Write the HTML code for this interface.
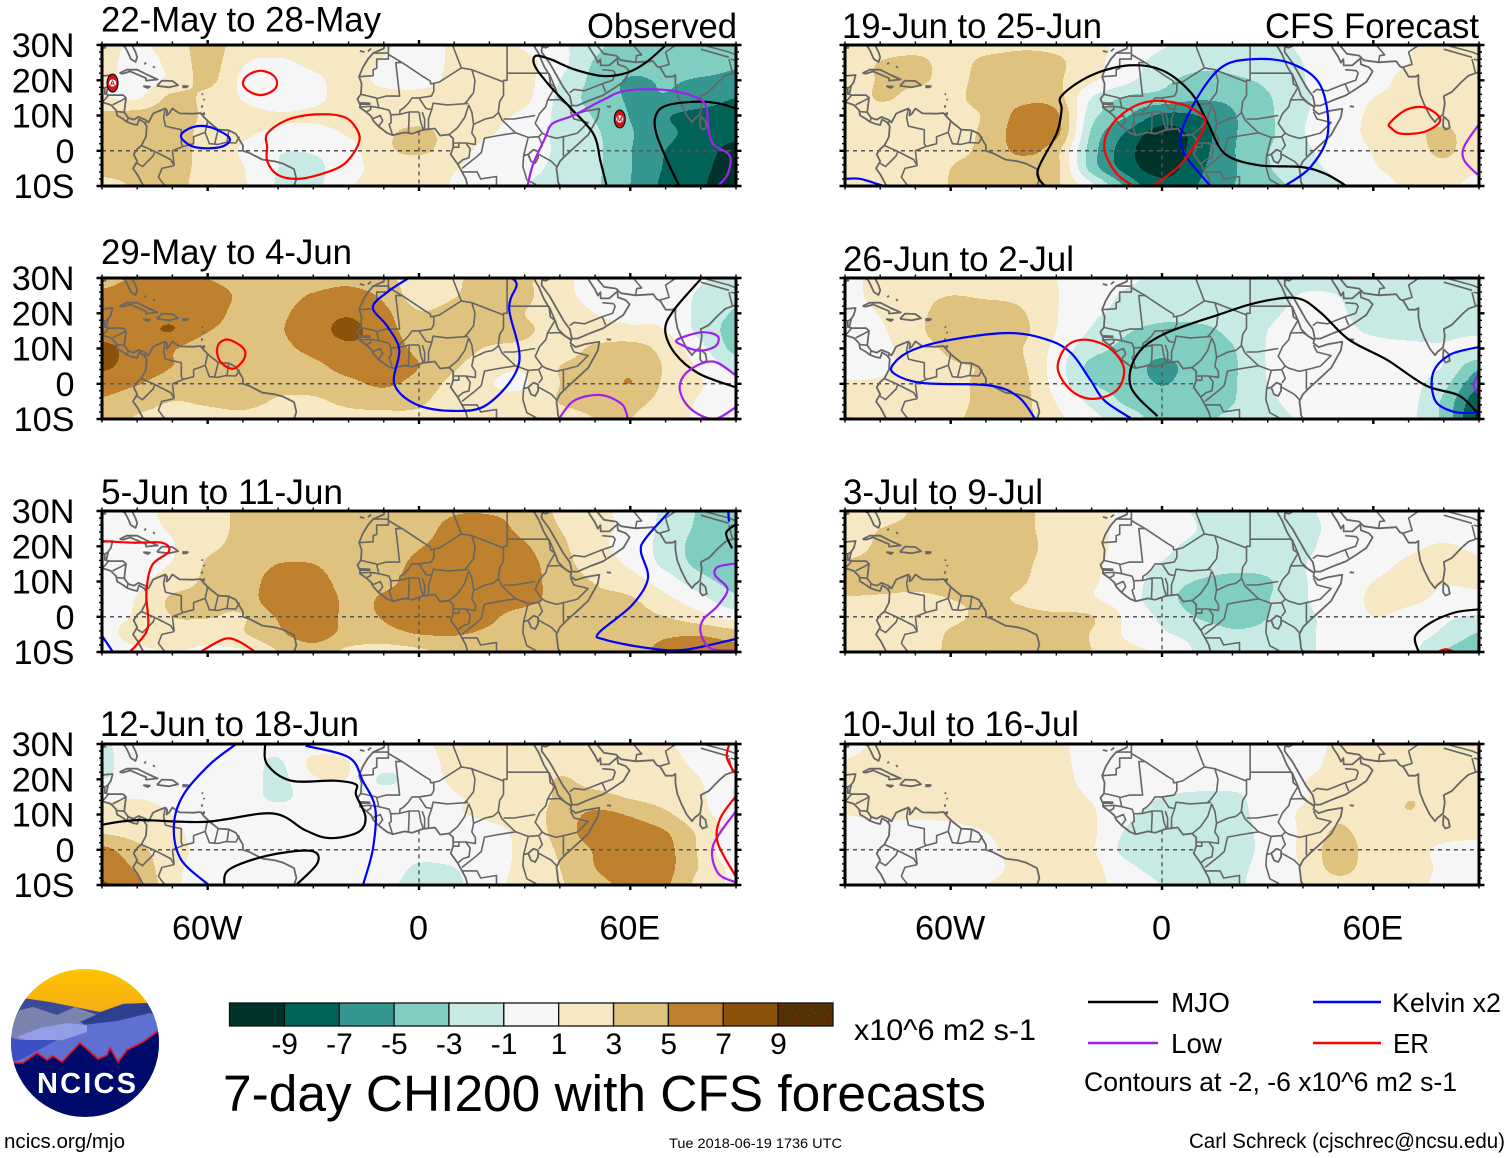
<!DOCTYPE html>
<html lang="en">
<head>
<meta charset="utf-8">
<title>7-day CHI200 with CFS forecasts</title>
<style>
html,body{margin:0;padding:0;background:#fff}
svg{display:block}
text{font-family:"Liberation Sans",sans-serif;fill:#000}
</style>
</head>
<body>
<svg id="chart" xmlns="http://www.w3.org/2000/svg" width="1510" height="1158" viewBox="0 0 1510 1158">
<defs>
<pattern id="specks" width="13" height="11" patternUnits="userSpaceOnUse">
<rect width="13" height="11" fill="#543005"/>
<rect x="2" y="3" width="1" height="1" fill="#c0201a"/>
<rect x="8" y="1" width="1" height="1" fill="#c0201a"/>
<rect x="5" y="8" width="1" height="1" fill="#c0201a"/>
<rect x="11" y="6" width="1" height="1" fill="#a02018"/>
</pattern>
<clipPath id="logo-clip"><circle cx="85" cy="1043" r="74"/></clipPath>
<linearGradient id="sun" x1="0" y1="0" x2="0" y2="1"><stop offset="0" stop-color="#ffc400"/><stop offset="1" stop-color="#f0a41c"/></linearGradient>
</defs>

<text x="101" y="31.5" font-size="35" textLength="280" lengthAdjust="spacingAndGlyphs">22-May to 28-May</text>
<text x="101" y="264" font-size="35" textLength="251" lengthAdjust="spacingAndGlyphs">29-May to 4-Jun</text>
<text x="101" y="504" font-size="35" textLength="242" lengthAdjust="spacingAndGlyphs">5-Jun to 11-Jun</text>
<text x="100" y="736" font-size="35" textLength="259" lengthAdjust="spacingAndGlyphs">12-Jun to 18-Jun</text>
<text x="842" y="38" font-size="35" textLength="260" lengthAdjust="spacingAndGlyphs">19-Jun to 25-Jun</text>
<text x="843" y="271" font-size="35" textLength="231" lengthAdjust="spacingAndGlyphs">26-Jun to 2-Jul</text>
<text x="843" y="504" font-size="35" textLength="200" lengthAdjust="spacingAndGlyphs">3-Jul to 9-Jul</text>
<text x="842" y="736" font-size="35" textLength="237" lengthAdjust="spacingAndGlyphs">10-Jul to 16-Jul</text>
<text x="587" y="38" font-size="35" textLength="150" lengthAdjust="spacingAndGlyphs">Observed</text>
<text x="1265" y="38" font-size="35" textLength="214" lengthAdjust="spacingAndGlyphs">CFS Forecast</text>

<g id="panels"></g>
<g id="colorbar"></g>

<text x="854" y="1040" font-size="30" textLength="182" lengthAdjust="spacingAndGlyphs">x10^6 m2 s-1</text>
<text x="223" y="1111" font-size="50.7" textLength="763" lengthAdjust="spacingAndGlyphs">7-day CHI200 with CFS forecasts</text>

<g>
<line x1="1088" x2="1158" y1="1002" y2="1002" stroke="#000" stroke-width="2.4"/>
<text x="1171" y="1012" font-size="27.5" textLength="59" lengthAdjust="spacingAndGlyphs">MJO</text>
<line x1="1313" x2="1381" y1="1002" y2="1002" stroke="#0000ff" stroke-width="2.4"/>
<text x="1392" y="1012" font-size="27" textLength="109" lengthAdjust="spacingAndGlyphs">Kelvin x2</text>
<line x1="1088" x2="1158" y1="1043" y2="1043" stroke="#a020f0" stroke-width="2.4"/>
<text x="1171" y="1053" font-size="27.5" textLength="51" lengthAdjust="spacingAndGlyphs">Low</text>
<line x1="1313" x2="1381" y1="1043" y2="1043" stroke="#ff0000" stroke-width="2.4"/>
<text x="1393" y="1053" font-size="27.5" textLength="36" lengthAdjust="spacingAndGlyphs">ER</text>
<text x="1084" y="1091" font-size="26.7" textLength="373" lengthAdjust="spacingAndGlyphs">Contours at -2, -6 x10^6 m2 s-1</text>
</g>

<g clip-path="url(#logo-clip)">
<rect x="11" y="969" width="148" height="60" fill="url(#sun)"/>
<polygon points="23,998 50,1002 75,1007 100,1012 123,1004 147,1003 162,1017 162,1070 5,1070 5,1030" fill="#3a4a96"/>
<polygon points="5,1030 20,1010 33,1007 57,1015 75,1007 97,1015 83,1022 83,1045 5,1045" fill="#7a84ae"/>
<polygon points="80,1022 100,1013 123,1004 147,1003 162,1015 117,1021 88,1026" fill="#2f3f8f"/>
<polygon points="83,1025 117,1021 150,1013 165,1020 165,1075 5,1075 5,1050 60,1040" fill="#6070d2"/>
<polygon points="17,1037 40,1028 67,1023 87,1025 87,1032 63,1040 33,1042" fill="#939ee6"/>
<polygon points="5,1036 20,1040 57,1040 20,1060 5,1064" fill="#3d4fc4"/>
<polygon points="5,1063 23,1063 37,1053 47,1060 53,1056 62,1062 80,1043 88,1050 98,1059 107,1055 110,1048 118,1062 127,1050 143,1042 165,1026 165,1125 5,1125" fill="#000a6b"/>
<polyline points="5,1062 15,1063 23,1063 37,1053 47,1060 53,1056 62,1062 80,1043 88,1050 98,1059 107,1055 110,1048 118,1062 127,1050 143,1042 165,1026" fill="none" stroke="#e8101c" stroke-width="1.6"/>
</g>
<text x="37" y="1093" font-size="29" font-weight="bold" textLength="99" style="fill:#fff">NCICS</text>

<text x="4" y="1148" font-size="20.5" textLength="121" lengthAdjust="spacingAndGlyphs">ncics.org/mjo</text>
<text x="669" y="1148" font-size="14" textLength="173" lengthAdjust="spacingAndGlyphs">Tue 2018-06-19 1736 UTC</text>
<text x="1189" y="1148" font-size="21.5" textLength="316" lengthAdjust="spacingAndGlyphs">Carl Schreck (cjschrec@ncsu.edu)</text>
</svg>

<script>
/* ---------- axes / legend data ---------- */
const lonGrid=[-90,-80,-70,-60,-50,-40,-30,-20,-10,0,10,20,30,40,50,60,70,80,90];
const latGrid=[30,25,20,15,10,5,0,-5,-10];
const latTickLabels=["30N","20N","10N","0","10S"];
const latTickValues=[30,20,10,0,-10];
const lonTickLabels=["60W","0","60E"];
const lonTickValues=[-60,0,60];
const colorLevels=[-9,-7,-5,-3,-1,1,3,5,7,9];
const bandColors=["#01332d","#016358","#35978f","#80cdc1","#c7eae5","#f6f6f6","#f6e8c3","#dfc27d","#bf812d","#8c510a","#543005"];

/* ---------- CHI200 anomaly fields (rows = latGrid, cols = lonGrid) ---------- */
const chi22May=[
[1.5,0.8,1.8,4,1.8,1.5,1.5,1.5,1.2,0.5,1.2,1.5,0.8,-0.5,-2.5,-4,-3.7,-3.2,-4.3],
[1.5,0.5,1.5,3.8,1.2,0.8,1.3,1.5,0.9,0.2,1.3,1.7,1.5,-0.3,-3.2,-4,-4,-4,-4.8],
[1.5,0.3,1.5,3.5,0.6,0.1,0.7,1.5,0.7,0.5,1.5,2.9,1.7,-1,-3.6,-5.2,-4.8,-5.2,-5.5],
[1.2,0.8,3.5,2.5,0.9,0.3,0.7,1.5,1.5,1.5,1.7,2,1.5,-1.5,-3.8,-5.2,-5.2,-6,-7],
[3.5,3.8,4,2.6,1.5,1.1,1.2,1.5,1.8,1.8,1.8,1.6,0.5,-1.5,-3.2,-5.1,-6.8,-7.6,-7.8],
[3.8,4,4.1,2.2,1.3,0.7,0.5,1.2,2.5,3.6,2,1.2,-0.3,-1.3,-2.7,-4.8,-6.5,-7.8,-8.5],
[3.7,3.9,4,2.1,0.8,-0.8,-0.8,0.3,2.5,3.4,1.8,0.3,-0.6,-1.2,-2.5,-4.9,-7,-8.2,-9.6],
[3.5,3.6,3.9,2.1,1.1,-1,-1.5,0.4,1.5,1.5,1.1,0.2,-0.7,-1.3,-2.6,-4.9,-7.2,-8.5,-10],
[2.5,3.2,3.8,1.8,1.2,-1.2,-1.5,0.8,1.5,1.5,0.9,0.2,-0.9,-1.5,-2.7,-5,-7.5,-8.8,-10]];
const chi29May=[
[4.5,5.2,5.7,5,4.2,3.8,4,4.4,3.5,2.2,2.8,3.5,3.3,1.5,0.5,0.2,0,-0.8,-2],
[5.3,6,6.3,6,4.6,4.2,5.2,5.8,4.6,2,2.9,3.9,3.4,1.6,0.5,0.1,0,-1.3,-2.6],
[5.6,6.2,6.5,5.8,4.4,4.6,6,6.8,5.5,3.2,3.8,4,3,2,1,0.7,0.5,-1.6,-3.2],
[6,6.4,7,5.1,4.3,4.8,6.2,7.4,5.9,3.9,4,4,3.3,2.2,1.6,1.4,1,-1.6,-3.8],
[7.5,6.2,5.2,3.8,3.8,4.4,5.6,6.6,6.2,4.5,4,2.8,2.5,2,3.4,3.9,2.2,-0.4,-3.6],
[7.4,6,5,3.9,3.8,3.8,4.5,5.8,6.3,5,3.3,1.7,1.3,3,3.8,4.5,2.8,0.6,-1.6],
[5.8,5.1,4.2,3.8,3.7,3.4,3.8,4.5,5.3,4.2,2.4,1.1,0.9,3,3.6,5,2.6,1.1,-0.2],
[4.8,3.9,3,3.3,3.6,2.8,2.6,3.6,3.8,3.3,2,1.6,1.6,3.1,3.5,3.6,2.3,0.8,0.5],
[4,2.8,2.3,2.2,2.4,1.6,1.1,2,2.4,2.6,1.8,1.7,1.8,2.2,3,3,1.8,0.7,0.3]];
const chi5Jun=[
[0.3,0.5,1.5,2.4,3.3,3.8,4,4,4,4.4,4.9,4.9,4.5,2.6,1.4,0.5,-1.5,-3.2,-4],
[0.3,0.5,1.2,2.2,3.4,3.8,4,4,4,4.5,5.4,5.6,4.5,3,1.5,0.5,-1.6,-3.4,-4.2],
[0.3,0.4,0.9,2.6,3.4,3.9,4,4,4.1,4.9,5.6,6.2,5.2,3.5,1.5,0.3,-1.8,-3.8,-4.6],
[0.2,0.4,1.1,3.2,3.5,5,5,3.9,4.3,5.4,6,6.2,5.7,3.8,2,0.7,-1.5,-3.6,-4.6],
[0.4,0.6,2,3.3,3.6,6.2,5.9,4.2,4.6,5.6,6,6.2,5.9,4,2.9,1.9,0,-2.2,-3.8],
[0.5,1.1,3.3,3.3,3.8,6.4,6.4,4.6,5.2,5.8,6,6.2,5.8,4,3.4,3.2,1.5,-0.4,-2.5],
[0.7,1.2,3,3.1,2.9,5.2,6.2,4.6,5.1,5.8,6,5.4,4,3.7,3.6,3.6,3,1.7,0.2],
[0.5,1.6,1.8,1.6,2.8,4.6,5.8,4.4,4.4,5,5.1,4.6,3.8,3.5,3.6,3.7,4.6,4.8,4],
[0.3,0.7,1,0.8,0.8,3,4.2,2.5,2,2.6,3.5,3.8,3.4,3.4,3.6,3.7,6,6.2,5.8]];
const chi12Jun=[
[-1.2,-0.3,0,0,-0.8,-0.2,0,0.3,0.2,0.4,2,2.2,2.2,2.2,2,2,1.2,0.4,0],
[-1.3,-0.3,0,0,0,-1.2,1.4,1,0,-0.2,1.8,2,2,2.3,2.4,1.8,1.5,0.6,0.2],
[-1,-0.2,0,0,0.1,-1.5,0.8,0.9,-1.3,0,1.3,1.9,1.9,3.1,2.4,1.8,1.6,1,-0.8],
[0.6,0.9,0.5,0.1,0,-1.4,-0.1,0,0,0,0.9,1.2,1.7,3.3,3.6,2.8,2.1,1.3,-1.1],
[1.9,1.7,1,0,0,0,0,0,0,0,0.8,1.3,1.9,3.8,5.4,4.8,3.4,1.5,0.2],
[2.8,2.2,1.4,0.2,0,0,0,0,0,0,0,0.5,1.6,3.8,6,6,5.1,2.5,0.3],
[5.5,3.6,1.7,0.4,0,0,0,0,0,-0.3,0,0.3,1.5,3.3,5.2,6.2,5.6,2.6,-0.8],
[6.4,4.6,1.5,0.5,0,0,0,0,-0.2,-1.2,-1,0.3,1.5,3,5,6,5.6,2.8,0.4],
[7.2,5.4,1.5,0.3,0,0,0,0,-0.6,-1.5,-1.4,0.5,1.5,2.8,4.4,5.4,5.3,2.2,0.7]];
const chi19Jun=[
[1.4,1.6,2,2,2.2,2.7,2.5,1.7,0.4,-0.8,-1.6,-1.7,-1.4,-0.8,0,0.2,0.9,1.6,1],
[1.5,3.1,3.6,2.2,3.5,3.8,3.4,1.6,0,-1.8,-2.5,-2.5,-1.8,-1,-0.2,0.3,1,1.6,1.2],
[1.5,3.2,3.3,2.6,3.5,3.8,3.3,1.3,-0.5,-2.5,-3.5,-3.3,-2.6,-1.1,0,0.5,1.4,1.7,1.3],
[1.5,3.2,2.4,2.7,3.5,4.5,3.9,-1,-3.3,-3.8,-4.7,-4.5,-3.2,-1.3,-0.3,1,1.3,1.9,1.5],
[1.5,2,1.7,2.6,3.2,5.6,5.4,-2.2,-4.8,-7.4,-7,-5.2,-3.4,-1.2,-0.2,1.4,1.8,2.2,1.8],
[1.4,1.7,1.6,2.4,3.4,6,5.6,-3.3,-7.2,-9.9,-8.2,-5.3,-3.5,-1.1,0.2,1.4,2.2,3.4,1.6],
[1.4,1.5,1.5,2.6,3.4,5.4,3.6,-4,-8.2,-10.5,-8,-5.2,-3.1,-1.4,-0.2,1.1,1.8,3.4,1.5],
[1.3,1.4,1.5,3,3.3,3.8,3.5,-3.8,-7.8,-9.9,-7.5,-5.3,-3.2,-1.7,-0.5,0.8,1.7,2.3,1.1],
[1.2,1.3,1.4,3.1,3.4,3.5,3.2,-0.5,-5.5,-8.3,-7,-5.1,-3.7,-2.4,-1.2,0,1.3,1.3,0.5]];
const chi26Jun=[
[0.5,1.5,2,2.2,2,1.8,1,0.4,-0.6,-1.4,-1.5,-1.6,-1.7,-1.5,-1.5,-1.8,-1.8,-1.7,-1.6],
[0.4,1.6,2.5,3,2.8,2.5,1.1,0,-1.3,-1.7,-1.8,-2,-1.8,-0.9,-1,-1.8,-1.8,-1.7,-1.6],
[0.3,1.1,2.6,3.5,3.7,3.2,1.1,-0.6,-1.6,-2.3,-2.4,-2.2,-1.4,-0.5,-0.8,-1.6,-1.8,-1.7,-1.6],
[0.1,0.7,2.6,3.7,3.9,3.5,1,-1.2,-2.8,-3.6,-3.4,-2.6,-1,-0.3,-0.6,-1.2,-1.4,-1.3,-1.2],
[0,0.4,2.2,3.3,3.8,3.1,0.4,-2.2,-3.5,-4.2,-3.7,-3.1,-0.9,-0.2,-0.3,-0.5,-0.7,-0.9,-0.8],
[0,0.5,2,2.8,3.1,3.3,0,-3.5,-3.9,-5.5,-4,-3.3,-0.9,-0.1,-0.1,-0.2,-0.4,-1.1,-4.5],
[1.2,1.3,2.2,2.5,3.4,3.6,0.2,-2.9,-3.7,-5.1,-3.8,-3.2,-1,-0.2,0,0,-0.3,-2.4,-6.5],
[1.4,1.5,2.2,2.5,3.4,3.6,0.9,-1.5,-3.3,-3.9,-3.8,-3.1,-1.4,-0.4,0,0,-0.4,-3.4,-8.5],
[3.2,2.1,2.3,2.7,3.5,3.6,1.5,-0.4,-2.2,-3.5,-3.4,-2.6,-1.6,-0.8,-0.2,0,-0.5,-3.6,-9.5]];
const chi3Jul=[
[1.5,1.6,3.3,3.6,3.7,3.6,2,1.6,0.6,0.2,-1.2,-1.5,-1.5,-1.3,-0.4,0,0,0,0],
[1.7,3,3.6,3.8,3.8,3.6,2,1.6,0.4,0,-1,-1.5,-1.6,-1.6,-0.4,0,0,0,0],
[2.2,3.3,3.8,3.9,3.9,3.8,2.1,1.6,0.3,-0.6,-1.4,-1.7,-1.8,-1.5,-0.1,0,0.6,1.2,0.6],
[3.2,3.5,3.8,3.9,3.9,3.5,1.9,1.4,0.1,-1.1,-1.8,-2.4,-2.2,-1.1,0,0.4,1.3,1.7,1.3],
[3.3,3.5,3.6,3.6,3.4,3.2,1.7,1.2,0,-2,-3.1,-3.5,-3.2,-1.2,0,1,1.5,1.1,1.3],
[2.9,2.8,2.6,3,3.2,2.8,1.6,1.2,-0.1,-2.2,-3.7,-3.9,-3.1,-1.2,-0.2,1.3,1.4,0.6,0.4],
[2,2.2,2.2,2.7,3.3,3.5,3.4,3.1,0.6,-1.4,-3.1,-3.8,-3,-1.4,-0.4,1,0.4,-0.6,-1.2],
[1.5,1.8,1.9,3.2,3.6,3.7,3.6,2.9,0.7,-0.7,-1.6,-2.6,-2.4,-1.4,-0.4,0.1,-0.2,-1.4,-3.2],
[1.2,1.6,2.1,3.3,3.8,4.6,3.8,3,1.6,0.7,-1.2,-1.8,-1.8,-1.3,-0.5,-0.1,-0.4,-3,-4.5]];
const chi10Jul=[
[0.2,1.5,1.7,1.7,1.6,1.6,1.4,0.2,0,0,0,0,0,0,1.4,1.6,1.6,1.6,1.5],
[1.1,1.6,1.7,1.7,1.7,1.6,1.4,0.4,0,0,0,0,0,0.1,1.6,1.7,1.7,1.7,1.6],
[1.3,1.5,1.7,1.7,1.7,1.6,1.5,0.5,0,0,0,0,0,0.9,1.7,1.8,1.8,1.8,1.7],
[1.3,1.5,1.7,1.8,1.7,1.6,1.5,0.9,0,-1,-1.4,-1.4,0,0.8,1.9,1.8,2.9,2.3,1.7],
[1,1.2,1.2,1.3,1.6,1.7,1.6,1.2,-0.6,-1.7,-1.8,-1.6,-0.2,1.3,2.6,1.9,2.9,1.9,1.5],
[0.6,0.5,0.5,0.6,1,1.8,1.7,1.3,-1.2,-1.9,-2,-1.7,-0.4,1.3,3.3,2,1.8,1.6,1.4],
[0.3,0.2,0.2,0.2,0.6,1.7,1.6,1.2,-1.6,-2,-2,-1.8,-0.4,1.4,3.9,2.1,1.6,0.7,0.4],
[0.2,0.2,0.2,0.2,0.3,1.6,1.7,1.5,-0.5,-1.8,-1.9,-1.6,-0.2,1.2,3.7,1.9,1.5,0.8,0.3],
[0.2,0.2,0.2,0.3,1,1.6,1.6,1.4,0.4,-1.05,-1.7,-1.4,-0.1,1.1,2.2,1.8,1.4,0.7,0.2]];

/* ---------- wave-filter contours, [lon,lat] (first==last means closed) ---------- */
const mjo22May=[
[[69.9,29.8],[64.4,25],[59,22.1],[52.2,21.2],[44,23.1],[37.2,26],[33.1,26.9],[32.9,24],[37.2,18.3],[42.7,12.5],[49.5,4.8],[51.5,-2.9],[53.3,-10]],
[[73.9,-10],[70.5,-2.9],[67.4,4.8],[67.1,9.6],[69.9,12.7],[78,13.9],[84.8,13.5],[89.9,12]]];
const kelvin22May=[[[-67.6,4.3],[-64.2,6.7],[-59.4,6.7],[-53.9,3.8],[-55.3,1.4],[-60.1,0.7],[-64.8,1.4],[-67.6,4.3]]];
const low22May=[[[30.8,-10],[32.4,-3.8],[35.9,3.8],[37.9,7.7],[44,10.1],[52.2,14.4],[59,17.1],[71.2,17.1],[80.7,13.9],[82.1,6.7],[83.5,1.9],[88.2,-1.4],[87.6,-6.7],[84.8,-10]]];
const er22May=[
[[-45,22.7],[-41.5,21.5],[-40.3,19.2],[-41.5,17],[-45,15.8],[-48.5,17],[-50,19.2],[-48.5,21.5],[-45,22.7]],
[[-43.1,4.8],[-37.6,8.7],[-29.5,10.3],[-21.3,9.6],[-17.5,5.8],[-17.2,1.9],[-21.3,-3.8],[-28.1,-6.7],[-34.9,-8],[-40.3,-6.7],[-43.1,-2.9],[-43.1,1],[-43.1,4.8]]];

const mjo29May=[[[80.1,29.8],[72.6,21.2],[69.9,15.4],[72.6,8.7],[79.4,2.9],[89.9,-1]]];
const kelvin29May=[[[-2.9,30],[-9,26],[-13.1,21.6],[-9,16.3],[-5.6,9.6],[-7,0],[-0.9,-5.8],[9.3,-7.7],[19.5,-5.8],[28.4,5.8],[25.6,21.2],[27.7,27.9],[26.3,30]]];
const low29May=[
[[39.7,-10],[44,-4.8],[51.5,-3.2],[57.6,-5.8],[59.3,-10]],
[[73.3,12.5],[80.1,14.6],[84.8,13.5],[84.1,10.6],[79.4,9.4],[74.6,11],[73.3,12.5]],
[[89.9,2.4],[83.5,6.3],[76.7,3.8],[74,-1],[76.7,-6.7],[83.5,-10],[89.9,-6.7]]];
const er29May=[[[-54,12.5],[-49.9,10.1],[-49.6,7.2],[-52.6,4.3],[-56,5.8],[-57.3,8.7],[-56.7,11.5],[-54,12.5]]];

const mjo5Jun=[[[89.9,26.2],[87.2,23.7],[88.9,19.4]]];
const kelvin5Jun=[
[[71.2,30],[64.4,22.3],[63,18.5],[65,10.8],[60.3,3.1],[51,-4.6],[52.8,-6.5],[64.4,-8.8],[75.2,-9.4],[89.9,-6.3]],
[[-90,-5.4],[-86.9,-10]],
[[87.8,30],[88,27]]];
const low5Jun=[[[89.9,15.1],[84.8,14.1],[84.1,11.7],[87.6,7.9],[84.8,3.1],[80.7,-0.8],[80,-4.6],[82.8,-9],[89.9,-9.6]]];
const er5Jun=[
[[-90,21.5],[-81.2,21],[-73,21],[-71,18.5],[-75.8,14.6],[-77.4,6.9],[-76.9,-2.7],[-79.8,-7.5],[-82.2,-10]],
[[-62.1,-10],[-55.3,-6.3],[-51.2,-7],[-46.5,-10]]];

const mjo12Jun=[
[[-90,7.1],[-79.8,8.4],[-60.8,7.9],[-41.7,10.3],[-32.2,5.5],[-25.4,3.3],[-17.2,5],[-15.2,9.3],[-17.9,15.6],[-17.9,18.5],[-24,19.6],[-36.3,19.6],[-43.1,24.2],[-43.7,30]],
[[-55.3,-10],[-53.9,-5.6],[-43.1,-1.7],[-30.8,-0.3],[-28.8,-3.7],[-34.9,-10]]];
const kelvin12Jun=[
[[-51.9,30],[-59.4,24.2],[-66.9,15.6],[-69.6,6.9],[-67.6,-2.7],[-59.7,-10]],
[[-32.2,29.5],[-19.9,26.2],[-15.9,19.4],[-12.4,11.7],[-13.1,0.2],[-15.9,-10]]];
const low12Jun=[[[89.9,10.8],[83.5,1.2],[84.8,-6.5],[89.9,-9.2]]];
const er12Jun=[
[[89.9,15.1],[85.5,8.8],[84.8,2],[89.9,-7.5]],
[[88.1,30],[87.4,26.2],[89.6,21.8]]];

const mjo19Jun=[[[-33.3,-10],[-35.3,-5.6],[-29.9,5],[-28.5,11.7],[-28.5,15.6],[-20.3,21.3],[-9.5,24.2],[0.1,22.8],[8.2,16.5],[13,7.9],[17.8,-0.8],[27.3,-4.1],[39.5,-4.6],[46.3,-6.5],[52.4,-10]]];
const kelvin19Jun=[
[[13.7,-10],[5.5,1.2],[8.2,11.7],[16.4,23.3],[25.9,26],[36.8,24.7],[45,18.5],[47.1,5],[42.2,-4.6],[34.8,-10]],
[[-90,-8],[-85.6,-8],[-79.1,-10]]];
const low19Jun=[[[89.9,7.4],[85.8,1.2],[85.8,-2.7],[89.6,-6.8]]];
const er19Jun=[
[[-2.7,-10],[5.5,-3.7],[11.6,5.9],[11.6,9.8],[5.5,13.2],[-2.7,14.1],[-9.5,11.7],[-14.9,6.4],[-16.3,0.2],[-12.9,-6.5],[-8.1,-10]],
[[64.7,7.9],[69.5,11.7],[74.9,12.2],[79,8.8],[74.9,5.5],[68.1,4.8],[65.1,6.4],[64.7,7.9]]];

const mjo26Jun=[[[-1.3,-9.2],[-8.8,-1],[-7.4,7.7],[0.1,13.9],[16.4,19.7],[27.3,23.1],[38.2,24.3],[45,20.2],[53.1,12.5],[64,6.7],[74.9,-0.5],[84.4,-3.4],[89.9,-8.7]]];
const kelvin26Jun=[
[[-36,-10],[-40.7,-3.8],[-48.9,-0.5],[-68,0.2],[-76.1,2.9],[-76.1,5.8],[-70.7,9.6],[-59.8,12.5],[-43.5,14.4],[-32.6,12.5],[-25.8,8.7],[-20.3,1],[-16.3,-4.8],[-8.8,-9.8]],
[[89.9,10.4],[81.7,8.2],[76.9,2.9],[77.6,-4.8],[83,-8],[89.9,-8.2]]];
const low26Jun=[[[89.9,2.9],[88.5,-0.5],[89.9,-2.9]]];
const er26Jun=[[[-21.7,12.5],[-14.9,10.1],[-10.8,4.3],[-12.9,-1.9],[-19.7,-4.3],[-25.8,-1.9],[-29.6,4.3],[-27.1,10.6],[-21.7,12.5]]];

const mjo3Jul=[[[72.9,-10],[71.9,-5.6],[76.3,-1.7],[83.1,1.2],[89.9,2.1]]];
const er3Jul=[[[78.3,-10],[80.6,-9.2],[83,-10]]];
const emptyContours=[];

const panelTitles=["22-May to 28-May","29-May to 4-Jun","5-Jun to 11-Jun","12-Jun to 18-Jun","19-Jun to 25-Jun","26-Jun to 2-Jul","3-Jul to 9-Jul","10-Jul to 16-Jul"];
const panelFields=[chi22May,chi29May,chi5Jun,chi12Jun,chi19Jun,chi26Jun,chi3Jul,chi10Jul];
const panelMjo=[mjo22May,mjo29May,mjo5Jun,mjo12Jun,mjo19Jun,mjo26Jun,mjo3Jul,emptyContours];
const panelKelvin=[kelvin22May,kelvin29May,kelvin5Jun,kelvin12Jun,kelvin19Jun,kelvin26Jun,emptyContours,emptyContours];
const panelLow=[low22May,low29May,low5Jun,low12Jun,low19Jun,low26Jun,emptyContours,emptyContours];
const panelEr=[er22May,er29May,er5Jun,er12Jun,er19Jun,er26Jun,er3Jul,emptyContours];
const stormLons=[-87,57];
const stormLats=[19.2,9];
const stormLetters=["A","M"];

/* ---------- base map polylines, [lon,lat] ---------- */
const coastLines=[
[[-81.5,30],[-80.5,28],[-80,26.5],[-80.5,25.2],[-81.8,26],[-82.7,28],[-83.5,29.5],[-84.5,30]],
[[-90,29.2],[-89,29.2],[-89.5,30]],
[[-90.5,19.5],[-90,21.2],[-87,21.5],[-87.5,19.5],[-88.2,18.5],[-88.8,16],[-88,15.8],[-84,15.8],[-83.2,15],[-83.5,12.5],[-83.7,10.9],[-82.5,9.3],[-81,8.8],[-79.6,9.6],[-77.5,8.7],[-76.8,8],[-75.5,10.5],[-74.5,11],[-72,12],[-71.5,11.3],[-71.7,10],[-71,10.5],[-70,12],[-68,10.6],[-64,10.5],[-62,10.7],[-61,9.5],[-59.5,8],[-57,6],[-54,5.8],[-52,4.8],[-50,1.5],[-50,0],[-48,-0.7],[-44.5,-2.5],[-41,-3],[-38.5,-3.7],[-35.5,-5.2],[-34.8,-8],[-35.5,-10]],
[[-90,13.8],[-87.5,13],[-86,11.5],[-85.7,10],[-84,9],[-83,8.2],[-81,7.5],[-80,7.3],[-79.5,8.9],[-78,8],[-77.3,7],[-77.5,4],[-78.8,1.5],[-80,0.5],[-81,-1],[-80,-3],[-81.2,-5],[-79.8,-7],[-78.5,-9.5],[-78,-10]],
[[-85,22],[-83,23],[-80,23],[-77,21.5],[-74.2,20.2],[-77.5,19.9],[-77.5,20.6],[-78.5,21],[-82,22.5],[-84,21.9],[-85,22]],
[[-74.4,18.4],[-73,19.9],[-70,19.8],[-68.4,18.6],[-71,18],[-74.4,18.4]],
[[-78.3,18.3],[-76.4,18.2],[-77,17.8],[-78.3,18.3]],
[[-67.2,18.4],[-65.6,18.3],[-66,18],[-67.2,18]],
[[-61.7,16.2],[-61.3,15.9]],[[-61.1,14.7],[-60.9,14.3]],[[-61.7,12.2],[-61.5,12.9]],
[[-61.9,10.2],[-61,10.7],[-61,10.1]],
[[-78,24.5],[-77.5,25]],[[-75.5,24],[-75,23.5]],
[[-9.8,30],[-10,29],[-13,27.7],[-14.5,26],[-16,23.5],[-17,21],[-16.3,19],[-16.5,16],[-17.5,14.7],[-16.7,13],[-16.8,12.3],[-15,11],[-13.5,9.7],[-13,8.5],[-11.5,6.9],[-9,5],[-7.5,4.4],[-4,5.2],[-2,4.8],[1,5.9],[4.5,6.3],[6,4.3],[8.5,4.6],[9.7,3.5],[9.7,1],[9,-1],[11,-3.8],[12.2,-6],[13.3,-8],[13.8,-10]],
[[-16.8,28.3],[-15.5,28]],[[-14.5,28.2],[-13.6,29]],
[[32.5,30],[34,27.5],[35.5,24],[37,21.5],[37.3,19],[38.6,18],[39.5,15.5],[41.5,13.5],[43.2,12.5],[43,11.5],[44.5,10.4],[47,11.2],[51.2,11.9],[50.8,9.5],[48,4.5],[45.3,2],[42,-1],[40,-3],[39,-5],[39.3,-7],[39.5,-9],[40.5,-10.5]],
[[34.9,29.5],[34.8,28],[37,25],[39,21.5],[41,18],[42.8,15.5],[43.4,12.8],[45,12.8],[49,14.5],[52.2,15.7],[55,17.5],[58,19.5],[59.8,22.5],[58.7,23.7],[56.5,24.5],[56.3,26.2],[54,24.2],[51.6,24.2],[51.5,26],[50.8,25],[50,26.7],[48.5,29],[48,30]],
[[49,30.2],[50.5,29.9],[52.5,27.5],[56,27],[57.3,25.7],[61.5,25.1],[66.5,25.4],[67.5,24],[68.5,23.5],[70,21],[72,21],[72.8,21.5],[72.8,19],[73.3,16],[74.5,13],[76,10],[77.5,8.1],[78.2,9],[79.8,10.3],[80.3,13.5],[80,15.5],[82.3,16.7],[85,19.5],[87,21.3],[89,22],[90.5,22.5]],
[[79.9,9.5],[79.8,7],[80.5,6],[81.7,6.5],[81.3,8.5],[80,9.7],[79.9,9.5]],
[[53.3,12.6],[54.5,12.5]],
[[31,-1],[32.5,0.3],[33.8,-0.2],[33.8,-2],[33,-3.5],[31.8,-3],[31,-1]]];
const borderLines=[
[[-72,12],[-72.5,9.5],[-72,7],[-70,6.5],[-67.5,6],[-67.5,2],[-67,1.2],[-70,0],[-69.5,-4.2]],
[[-69.5,-4.2],[-70.5,-2.5],[-75,-0.2],[-78.8,1.5]],
[[-75,-0.2],[-75.5,-1.5],[-78.5,-4.5],[-80.3,-3.4]],
[[-69.5,-4.2],[-73,-5],[-74,-7.5],[-72.5,-9.5],[-70.5,-11]],
[[-60,8.5],[-60.7,5.2],[-64,4],[-64,2],[-67,1.2]],
[[-60.7,5.2],[-59.5,2],[-57,1.8],[-55,2.3],[-52,2.2],[-51,4]],
[[-57,6],[-58,2]],[[-54,5.8],[-54.5,2.3]],
[[-70,-11],[-65,-10]],
[[-90.5,16],[-91,17.8],[-89,17.9],[-88.3,18.4]],
[[-89.2,17.8],[-89.2,15.9]],[[-88.2,15.7],[-89.3,14.4],[-90,13.8]],
[[-83.2,15],[-85,14],[-87,13]],[[-83.7,10.9],[-85.7,11.1]],[[-82.6,9.5],[-82.9,8.1]],[[-77.4,8.6],[-77.8,7.4]],
[[-13,27.7],[-8.7,27.7]],
[[-17,21],[-13,21.3],[-13,23],[-12,23.4],[-12,26],[-8.7,26],[-8.7,27.3],[-4.8,25],[-6.6,25],[-5.5,15.5],[-9.3,15.5],[-12,14.8],[-12.2,15],[-16.5,16]],
[[-8.7,30],[-8.7,27.3]],
[[-4.8,25],[1.1,21.1],[3.2,19.8],[3.3,19],[4.2,19.1],[4.2,16.8],[3.5,15.5],[0,15],[-2,15],[-3,13.5],[-4.5,12],[-5.4,11.5],[-5.5,10.3]],
[[4,19.1],[5.8,19.5],[12,23.5],[9.5,30]],
[[12,23.5],[15,23],[24,19.5],[24,20],[25,20],[25,30]],
[[25,22],[36.9,22]],
[[24,19.5],[24,15.7],[22.9,14],[22.5,11],[23.6,8.7],[27.4,5.1]],
[[22.8,11],[21,9.5],[18.8,9],[15.5,7.5]],
[[15,23],[15.9,20],[15.5,16.5],[13.6,14],[13,13.5]],
[[14.1,13],[15,11],[15.5,7.5],[15,5],[16,3.5],[16,1.8],[13.3,2.2],[9.8,2.2]],
[[14,13.4],[8,13],[4,13.5],[3.6,11.7],[2.7,9],[2.7,6.3]],
[[1.6,6.2],[1.6,9],[0.9,11]],[[1.2,6.1],[0.5,8],[0,11]],
[[-3,5],[-2.8,9.5],[-2.8,11]],
[[3.6,11.7],[2,12],[0,15]],
[[0,11],[-2.8,11],[-5.5,10.3],[-8,10.2],[-8.5,11.5],[-11.4,12.2],[-12,14.8]],
[[-11.4,12.2],[-13.7,12.6],[-16.8,12.4]],[[-13.7,12.6],[-13.7,11.7],[-15,11]],
[[-8,10.2],[-7.9,8],[-8.5,7.5],[-7.5,4.4]],
[[-13.3,9],[-11,10],[-10.3,8.5],[-11.5,6.9]],
[[-16.8,13.6],[-14,13.5],[-14,13.2],[-16.8,13.2]],
[[14.1,13],[13,9.5],[11,6.6],[8.6,4.6]],
[[11,-3.8],[12.5,-2.5],[14.2,-2],[14.5,0.5],[13.3,2.2]],
[[9.7,1],[11.3,1],[11.3,2.2]],
[[12.2,-5],[16,-2],[17.7,-0.5],[18.6,3.6],[22,4.2],[27.4,5.1]],
[[36.9,22],[38.6,18],[36.5,14.4],[36,12.5],[34.2,10.5],[33,7.8],[35,5]],
[[36.5,14.4],[40,14.5],[43,12.5]],
[[24,9],[27,9],[33,10]],
[[27.4,5.1],[31,3.8],[34,4],[35,5],[36,4.4],[39,3.5],[41,4],[42,4.2],[45,5],[48,8],[44,9],[43,11]],
[[41,4],[41,-1.6]],[[34,4],[35,1.5],[34,0.2]],
[[34,-1],[37.6,-3],[39.2,-4.7]],
[[31,3.8],[29.7,-1.4],[29.5,-4.5],[30.6,-8.2],[33,-9.5],[34.8,-11]],
[[34.8,-11],[40.4,-10.4]],
[[29.7,-1.4],[31,-1]],
[[12.2,-6],[16.5,-6],[17.5,-8],[22,-7.3],[22,-11]],
[[34.9,29.5],[36,29.2],[37.5,30]],
[[42.8,16.5],[44,17.4],[47,17],[52,19],[53,16.6]],
[[52,19],[55,20],[55.7,22],[55.2,22.7],[52,23]],
[[61.5,25.1],[61.8,27],[63.2,27.2],[60.8,30]],
[[68.3,23.7],[71,24.5],[70,28],[73,30]],
[[80,28.8],[88,26.5]],[[80.5,30],[88,28],[90,27.2]],
[[88,26],[89,22]],[[88.5,26],[90.5,25.5]],[[78.5,30],[80.5,30]]];
const equatorSpans=[[-90,9.5],[42,90]];

/* ---------- layout and axis functions ---------- */
const NS='http://www.w3.org/2000/svg';
const panelLefts=[102,102,102,102,845,845,845,845];
const panelTops=[45,278,511,744,45,278,511,744];
const PW=634,PH=141;
function xAxis(p,lon){return panelLefts[p]+(lon-lonGrid[0])*PW/(lonGrid[lonGrid.length-1]-lonGrid[0]);}
function yAxis(p,lat){return panelTops[p]+(latGrid[0]-lat)*PH/(latGrid[0]-latGrid[latGrid.length-1]);}
function make(tag,parent){const el=document.createElementNS(NS,tag);parent.appendChild(el);return el;}
function cr(a,b,c,d,t){return 0.5*(2*b+(c-a)*t+(2*a-5*b+4*c-d)*t*t+(3*b-a-3*c+d)*t*t*t);}
function fieldAt(f,lon,lat){
  const nr=f.length,nc=f[0].length;
  const u=(lon-lonGrid[0])/(lonGrid[1]-lonGrid[0]),v=(latGrid[0]-lat)/(latGrid[0]-latGrid[1]);
  const i=Math.min(nc-2,Math.max(0,Math.floor(u))),j=Math.min(nr-2,Math.max(0,Math.floor(v)));
  const tu=u-i,tv=v-j,rows=[];
  for(let k=-1;k<=2;k++){
    const r=f[Math.min(nr-1,Math.max(0,j+k))];
    rows.push(cr(r[Math.max(0,i-1)],r[i],r[i+1],r[Math.min(nc-1,i+2)],tu));
  }
  return cr(rows[0],rows[1],rows[2],rows[3],tv);
}
function bandOf(v){let i=0;while(i<colorLevels.length&&v>=colorLevels[i])i++;return i;}
function smoothPath(p,pts){
  const q=pts.map(a=>[xAxis(p,a[0]),yAxis(p,a[1])]);
  const closed=q.length>3&&pts[0][0]===pts[pts.length-1][0]&&pts[0][1]===pts[pts.length-1][1];
  const n=q.length;
  let d='M'+q[0][0].toFixed(1)+' '+q[0][1].toFixed(1);
  for(let i=0;i<n-1;i++){
    const a=i>0?q[i-1]:(closed?q[n-2]:q[0]);
    const b=q[i],c=q[i+1];
    const e=i<n-2?q[i+2]:(closed?q[1]:q[n-1]);
    d+='C'+(b[0]+(c[0]-a[0])/6).toFixed(1)+' '+(b[1]+(c[1]-a[1])/6).toFixed(1)+' '+(c[0]-(e[0]-b[0])/6).toFixed(1)+' '+(c[1]-(e[1]-b[1])/6).toFixed(1)+' '+c[0].toFixed(1)+' '+c[1].toFixed(1);
  }
  return d;
}
function straightPath(p,lines){
  let d='';
  for(const l of lines){l.forEach((a,i)=>{d+=(i?'L':'M')+xAxis(p,a[0]).toFixed(1)+' '+yAxis(p,a[1]).toFixed(1);});}
  return d;
}
function bandPaths(p){
  const L=panelLefts[p],T=panelTops[p],paths=bandColors.map(()=>[]),f=panelFields[p];
  const w=lonGrid[lonGrid.length-1]-lonGrid[0],h=latGrid[0]-latGrid[latGrid.length-1];
  for(let y=0;y<PH;y++){
    const lat=latGrid[0]-(y+0.5)*h/PH;
    let start=0,cur=-1;
    for(let x=0;x<=PW;x++){
      const b=x<PW?bandOf(fieldAt(f,lonGrid[0]+(x+0.5)*w/PW,lat)):-2;
      if(b!==cur){
        if(cur>=0)paths[cur].push('M'+(L+start)+' '+(T+y)+'h'+(x-start)+'v1h-'+(x-start)+'z');
        start=x;cur=b;
      }
    }
  }
  return paths;
}

/* ---------- draw panels ---------- */
const panelsGroup=document.getElementById('panels');
const svgDefs=document.querySelector('#chart defs');
panelTitles.forEach((title,p)=>{
  const L=panelLefts[p],T=panelTops[p];
  const g=make('g',panelsGroup);
  
  
  g.setAttribute('aria-label',title);

  const cp=make('clipPath',svgDefs);
  cp.setAttribute('id','clip'+p);
  const cpr=make('rect',cp);
  cpr.setAttribute('x',L);cpr.setAttribute('y',T);cpr.setAttribute('width',PW);cpr.setAttribute('height',PH);

  const fills=make('g',g);
  
  
  bandPaths(p).forEach((runs,b)=>{
    if(!runs.length)return;
    const band=make('path',fills);
    
    
    band.setAttribute('d',runs.join(''));
    band.setAttribute('fill',bandColors[b]);
    band.setAttribute('shape-rendering','crispEdges');
  });

  const inner=make('g',g);
  inner.setAttribute('clip-path','url(#clip'+p+')');
  
  

  const eq=make('path',inner);
  
  
  eq.setAttribute('d',straightPath(p,equatorSpans.map(s=>[[s[0],0],[s[1],0]])));
  eq.setAttribute('stroke','#555');eq.setAttribute('stroke-width','1.5');eq.setAttribute('stroke-dasharray','4 4');eq.setAttribute('fill','none');
  const mer=make('path',inner);
  
  
  mer.setAttribute('d',straightPath(p,[[[0,5.5],[0,-10]]]));
  mer.setAttribute('stroke','#555');mer.setAttribute('stroke-width','1.4');mer.setAttribute('stroke-dasharray','4 4');mer.setAttribute('fill','none');

  const coast=make('path',inner);
  
  
  coast.setAttribute('d',straightPath(p,coastLines));
  coast.setAttribute('stroke','#666');coast.setAttribute('stroke-width','1.8');coast.setAttribute('fill','none');coast.setAttribute('stroke-linejoin','round');
  const borders=make('path',inner);
  
  
  borders.setAttribute('d',straightPath(p,borderLines));
  borders.setAttribute('stroke','#666');borders.setAttribute('stroke-width','1.6');borders.setAttribute('fill','none');borders.setAttribute('stroke-linejoin','round');

  panelMjo[p].forEach(pts=>{
    const c=make('path',inner);
    
    
    c.setAttribute('d',smoothPath(p,pts));
    c.setAttribute('stroke','#000000');c.setAttribute('stroke-width','2.2');c.setAttribute('fill','none');
  });
  panelKelvin[p].forEach(pts=>{
    const c=make('path',inner);
    
    
    c.setAttribute('d',smoothPath(p,pts));
    c.setAttribute('stroke','#0000ff');c.setAttribute('stroke-width','2.2');c.setAttribute('fill','none');
  });
  panelLow[p].forEach(pts=>{
    const c=make('path',inner);
    
    
    c.setAttribute('d',smoothPath(p,pts));
    c.setAttribute('stroke','#a020f0');c.setAttribute('stroke-width','2.2');c.setAttribute('fill','none');
  });
  panelEr[p].forEach(pts=>{
    const c=make('path',inner);
    
    
    c.setAttribute('d',smoothPath(p,pts));
    c.setAttribute('stroke','#ff0000');c.setAttribute('stroke-width','2.2');c.setAttribute('fill','none');
  });

  if(p===0){
    stormLons.forEach((lon,i)=>{
      const sx=xAxis(p,lon),sy=yAxis(p,stormLats[i]);
      const st=make('g',g);
      
      
      const body=make('ellipse',st);
      body.setAttribute('cx',sx);body.setAttribute('cy',sy);body.setAttribute('rx','5.5');body.setAttribute('ry','9');
      body.setAttribute('fill','#d0141c');body.setAttribute('stroke','#000');body.setAttribute('stroke-width','1');
      const eye=make('circle',st);
      eye.setAttribute('cx',sx);eye.setAttribute('cy',sy);eye.setAttribute('r','3.6');eye.setAttribute('fill','#fff');
      const lab=make('text',st);
      lab.setAttribute('x',sx);lab.setAttribute('y',sy+2.6);lab.setAttribute('font-size','7');lab.setAttribute('font-weight','bold');lab.setAttribute('text-anchor','middle');
      lab.style.fill='#b01018';
      lab.textContent=stormLetters[i];
    });
  }

  /* ticks */
  let majorD='',minorD='';
  const R=L+PW,B=T+PH;
  for(const lon of lonGrid){
    const x=xAxis(p,lon),isMajor=lonTickValues.includes(lon);
    const len=isMajor?5:3.5;
    const seg='M'+x.toFixed(1)+' '+T+'v-'+len+'M'+x.toFixed(1)+' '+B+'v'+len;
    if(isMajor)majorD+=seg;else minorD+=seg;
  }
  for(let lat=latGrid[latGrid.length-1];lat<=latGrid[0];lat+=2){
    const y=yAxis(p,lat),isMajor=latTickValues.includes(lat);
    const len=isMajor?5.5:3;
    const seg='M'+L+' '+y.toFixed(1)+'h-'+len+'M'+R+' '+y.toFixed(1)+'h'+len;
    if(isMajor)majorD+=seg;else minorD+=seg;
  }
  const minor=make('path',g);
  
  
  minor.setAttribute('d',minorD);minor.setAttribute('stroke','#000');minor.setAttribute('stroke-width','1.4');
  const major=make('path',g);
  
  
  major.setAttribute('d',majorD);major.setAttribute('stroke','#000');major.setAttribute('stroke-width','2.4');

  const frame=make('rect',g);
  
  
  frame.setAttribute('x',L);frame.setAttribute('y',T);frame.setAttribute('width',PW);frame.setAttribute('height',PH);
  frame.setAttribute('fill','none');frame.setAttribute('stroke','#000');frame.setAttribute('stroke-width','3');

  if(p<4){
    latTickLabels.forEach((lab,i)=>{
      const t=make('text',g);
      
      
      t.setAttribute('x',74.5);t.setAttribute('y',yAxis(p,latTickValues[i])+12);
      t.setAttribute('font-size','34.2');t.setAttribute('text-anchor','end');
      t.textContent=lab;
    });
  }
  if(p===3||p===7){
    lonTickLabels.forEach((lab,i)=>{
      const t=make('text',g);
      
      
      t.setAttribute('x',xAxis(p,lonTickValues[i])-0.5);t.setAttribute('y',939.5);
      t.setAttribute('font-size','34.2');t.setAttribute('text-anchor','middle');
      t.textContent=lab;
    });
  }
});

/* ---------- colorbar ---------- */
const cb=document.getElementById('colorbar');
const cbLeft=229.5,cbRight=833,cbTop=1003,cbH=23;
function cbX(i){return cbLeft+i*(cbRight-cbLeft)/bandColors.length;}
bandColors.forEach((col,i)=>{
  const r=make('rect',cb);
  
  
  r.setAttribute('x',cbX(i));r.setAttribute('y',cbTop);r.setAttribute('width',cbX(i+1)-cbX(i));r.setAttribute('height',cbH);
  r.setAttribute('fill',i===bandColors.length-1?'url(#specks)':col);
  r.setAttribute('stroke','#111');r.setAttribute('stroke-width','1.3');
});
colorLevels.forEach((lev,i)=>{
  const t=make('text',cb);
  
  
  t.setAttribute('x',cbX(i+1)+0.3);t.setAttribute('y',1054);
  t.setAttribute('font-size','30');t.setAttribute('text-anchor','middle');
  t.textContent=String(lev);
});
</script>
</body>
</html>
